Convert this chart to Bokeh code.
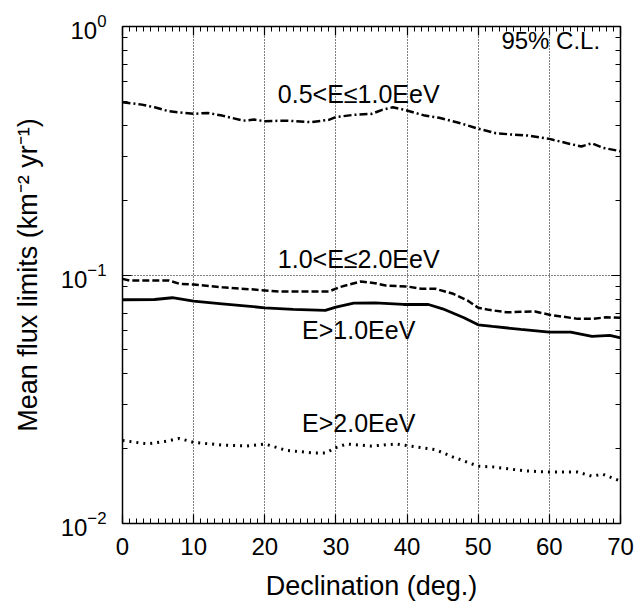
from bokeh.plotting import figure
from bokeh.models import (LogAxis, LinearAxis, SingleIntervalTicker, FixedTicker,
                          CustomJSTickFormatter, LogTickFormatter, Range1d, Label)
from bokeh.embed import file_html
from bokeh.resources import INLINE

# ---- data ----
decl_a = [0, 2.5, 4.5, 6.5, 10, 12, 14, 17, 18.5, 20, 23, 26.5, 29, 30, 32.5, 35,
          36.5, 38, 39.5, 42.5, 44.5, 47.5, 50, 52.5, 54.5, 57, 60, 62.5, 64.5, 66, 67.5, 70]
flux_05_10 = [0.496, 0.486, 0.473, 0.456, 0.445, 0.449, 0.438, 0.418, 0.422, 0.416, 0.418,
              0.412, 0.421, 0.432, 0.441, 0.445, 0.462, 0.473, 0.463, 0.438, 0.429, 0.408,
              0.388, 0.372, 0.368, 0.364, 0.353, 0.339, 0.329, 0.339, 0.325, 0.315]

decl_b = [0, 1, 6.5, 8, 10, 14, 18.5, 22, 26, 29, 30.5, 33.5, 35.5, 37, 40, 42, 44, 46.5,
          48.5, 50, 51.5, 54, 58, 60, 64, 66, 68, 70]
flux_10_20 = [0.0965, 0.0950, 0.0950, 0.0922, 0.0916, 0.0893, 0.0874, 0.0858, 0.0858, 0.0858,
              0.0893, 0.0942, 0.0927, 0.0907, 0.0899, 0.0880, 0.0880, 0.0840, 0.0790, 0.0738,
              0.0724, 0.0708, 0.0713, 0.0692, 0.0666, 0.0666, 0.0676, 0.0673]

decl_c = [0, 4.5, 7, 10, 14, 20, 24, 28.5, 30, 32.5, 35.5, 39.5, 43, 45, 48, 50, 52, 56,
          60, 63, 66, 68.5, 70]
flux_gt10 = [0.0795, 0.0797, 0.0810, 0.0785, 0.0766, 0.0738, 0.0727, 0.0720, 0.0742, 0.0770,
             0.0772, 0.0761, 0.0761, 0.0731, 0.0673, 0.0630, 0.0621, 0.0604, 0.0589, 0.0589,
             0.0566, 0.0571, 0.0559]

decl_d = [0, 3.5, 6, 8, 10, 14, 17.5, 20, 23, 27, 28.5, 30, 31.5, 35, 38.5, 40.5, 44, 46.5,
          50, 52, 56.5, 60, 64, 66, 67.5, 70]
flux_gt20 = [0.0216, 0.0209, 0.0214, 0.0220, 0.0212, 0.0207, 0.0205, 0.0209, 0.0197, 0.0192,
             0.0192, 0.0202, 0.0209, 0.0205, 0.0209, 0.0205, 0.0198, 0.0185, 0.0170, 0.0169,
             0.0163, 0.0161, 0.0161, 0.0155, 0.0158, 0.0148]

y_major = [0.01, 0.1, 1.0]
y_minor = [0.02, 0.03, 0.04, 0.05, 0.06, 0.07, 0.08, 0.09,
           0.2, 0.3, 0.4, 0.5, 0.6, 0.7, 0.8, 0.9]

series_labels = ["0.5<E\u22641.0EeV", "1.0<E\u22642.0EeV", "E>1.0EeV", "E>2.0EeV"]
x_title = "Declination (deg.)"
y_title = "Mean flux limits (km\u207b\u00b2 yr\u207b\u00b9)"
cl_text = "95% C.L."

FONT = "Liberation Sans"

p = figure(width=640, height=605, x_range=Range1d(0, 70), y_range=Range1d(0.01, 1),
           y_axis_type="log", output_backend="svg", toolbar_location=None,
           frame_width=498, frame_height=497,
           min_border_left=122, min_border_right=20, min_border_top=26, min_border_bottom=82)

p.outline_line_color = "black"
p.outline_line_width = 1.5

p.xaxis.ticker = SingleIntervalTicker(interval=10, num_minor_ticks=10)
p.yaxis.ticker = FixedTicker(ticks=y_major, minor_ticks=y_minor)
p.yaxis.formatter = LogTickFormatter()

for ax in [p.xaxis[0], p.yaxis[0]]:
    ax.axis_line_color = None
    ax.major_tick_in = 9
    ax.major_tick_out = 0
    ax.minor_tick_in = 5
    ax.minor_tick_out = 0
    ax.major_tick_line_width = 1.2
    ax.minor_tick_line_width = 1
    ax.major_label_text_font = FONT
    ax.major_label_text_font_size = "24px"
    ax.major_label_text_color = "black"
    ax.axis_label_text_font = FONT
    ax.axis_label_text_font_size = "27px"
    ax.axis_label_text_font_style = "normal"
    ax.axis_label_text_color = "black"

p.xaxis.axis_label = x_title
p.yaxis.axis_label = y_title
p.xaxis.major_label_standoff = 14
p.xaxis.axis_label_standoff = 13
p.yaxis.major_label_standoff = 16
p.yaxis.axis_label_standoff = 15

blank = CustomJSTickFormatter(code="return ''")
top = LinearAxis(ticker=SingleIntervalTicker(interval=10, num_minor_ticks=10), formatter=blank)
right = LogAxis(ticker=FixedTicker(ticks=y_major, minor_ticks=y_minor), formatter=blank)
for ax in [top, right]:
    ax.axis_line_color = None
    ax.major_tick_in = 9
    ax.major_tick_out = 0
    ax.minor_tick_in = 5
    ax.minor_tick_out = 0
    ax.major_tick_line_width = 1.2
    ax.major_label_standoff = 0
p.add_layout(top, "above")
p.add_layout(right, "right")

for g in [p.xgrid[0], p.ygrid[0]]:
    g.grid_line_color = "black"
    g.grid_line_dash = "1 2"
    g.grid_line_width = 1
p.xgrid.ticker = SingleIntervalTicker(interval=10)
p.ygrid.ticker = FixedTicker(ticks=y_major)

p.line(decl_a, flux_05_10, line_color="black", line_width=2.5, line_dash="8 3 2 3")
p.line(decl_b, flux_10_20, line_color="black", line_width=2.5, line_dash="7 3")
p.line(decl_c, flux_gt10, line_color="black", line_width=2.8)
p.line(decl_d, flux_gt20, line_color="black", line_width=3, line_dash="2 5")

label_x = 33.2
label_y = [0.537, 0.1165, 0.0598, 0.02526]
for t, yy in zip(series_labels, label_y):
    p.add_layout(Label(x=label_x, y=yy, text=t, text_align="center", text_baseline="middle",
                       text_font=FONT, text_font_size="25px", text_color="black"))
p.add_layout(Label(x=60.2, y=0.875, text=cl_text, text_align="center", text_baseline="middle",
                   text_font=FONT, text_font_size="24px", text_color="black"))

open("out.html", "w").write(file_html(p, INLINE))
